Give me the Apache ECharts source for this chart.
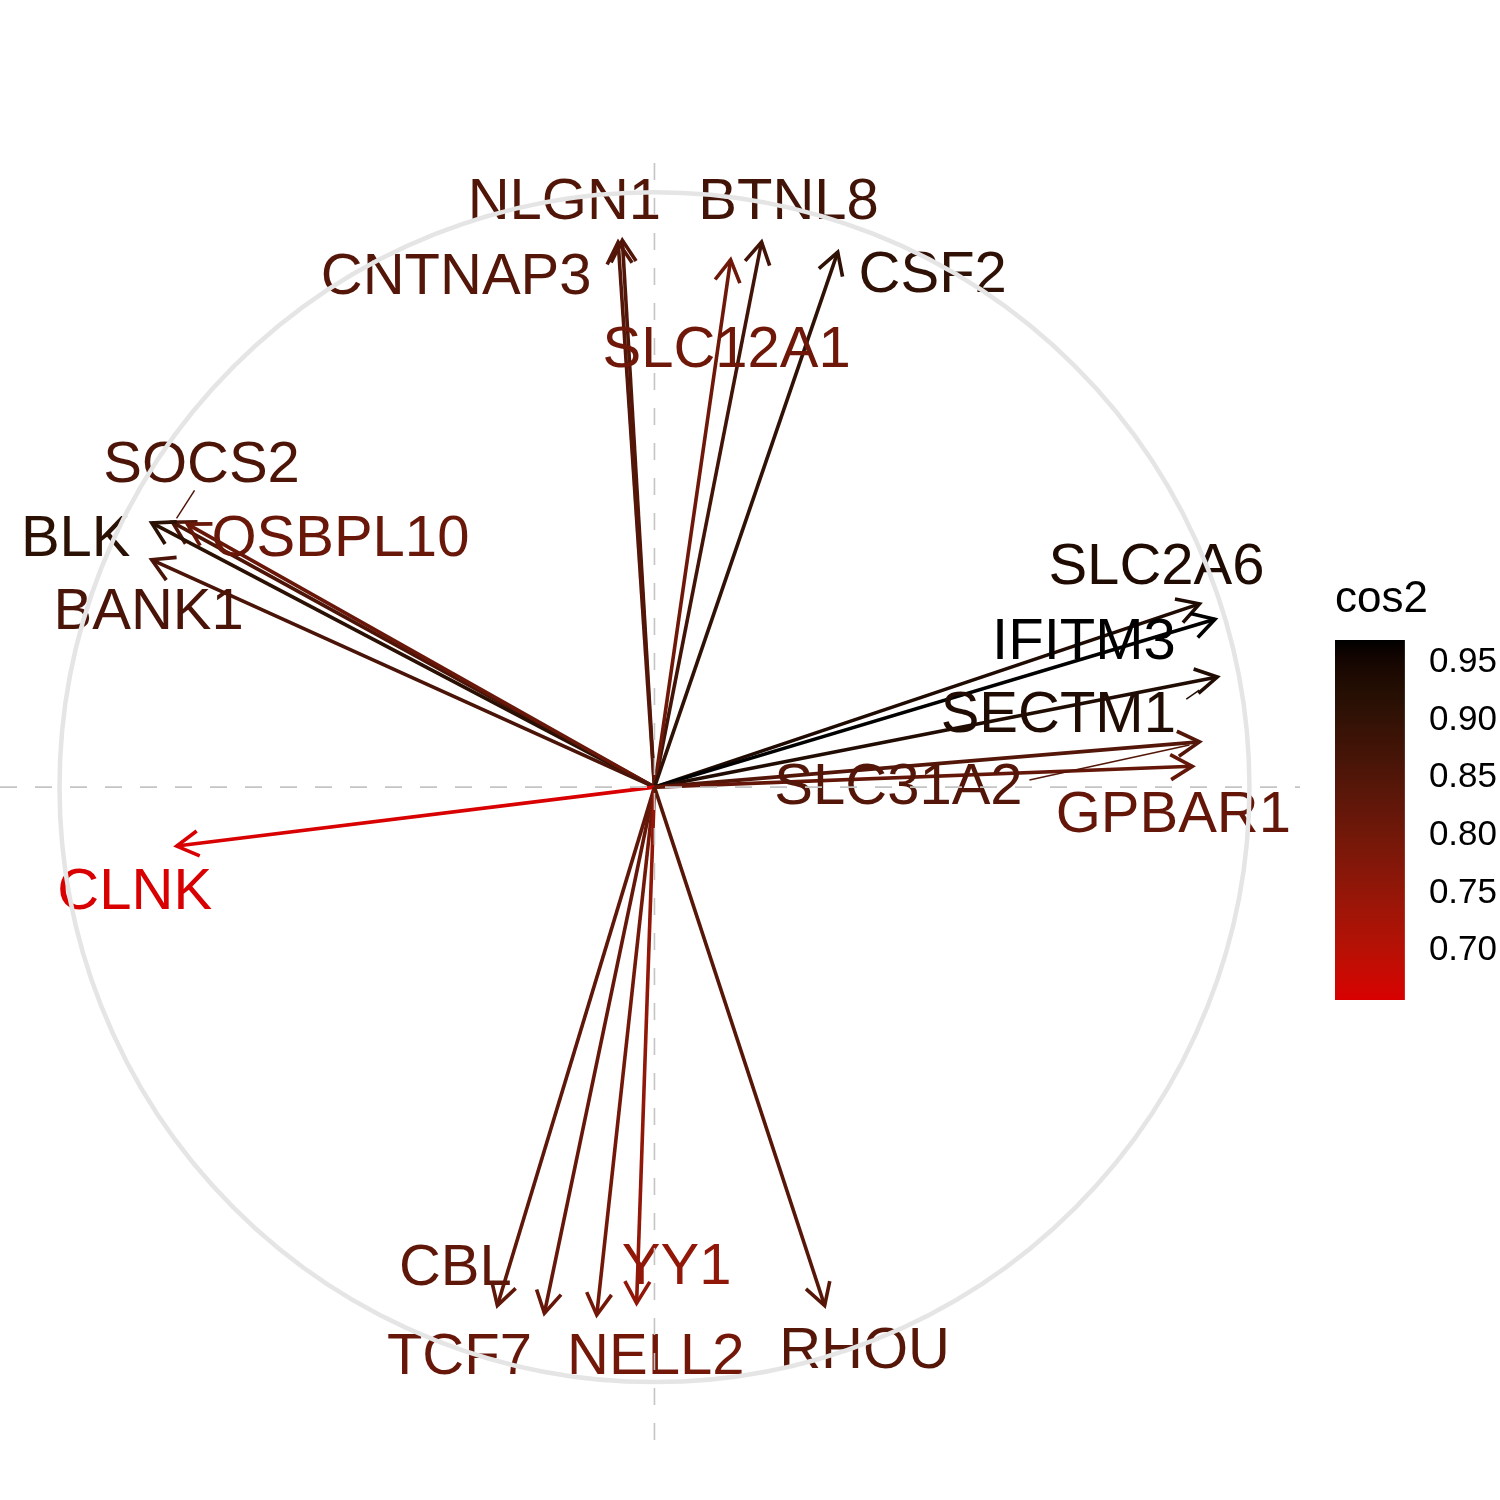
<!DOCTYPE html>
<html><head><meta charset="utf-8">
<script src="https://cdn.jsdelivr.net/npm/echarts@6.0.0/dist/echarts.min.js"></script>
<style>html,body{margin:0;padding:0;background:#fff}#c{width:1500px;height:1500px}</style>
</head><body><div id="c"></div>
<script>
// ---- data ----
const genes = ["NLGN1","CNTNAP3","BTNL8","SLC12A1","CSF2","SOCS2","BLK","OSBPL10","BANK1",
  "SLC2A6","IFITM3","SECTM1","SLC31A2","GPBAR1","CLNK","CBL","TCF7","NELL2","YY1","RHOU"];
const dim1 = [-0.054,-0.061,0.180,0.128,0.308,-0.810,-0.845,-0.785,-0.845,
  0.916,0.942,0.946,0.916,0.904,-0.803,-0.264,-0.185,-0.097,-0.030,0.286];
const dim2 = [0.919,0.916,0.916,0.886,0.899,0.445,0.444,0.442,0.382,
  0.308,0.282,0.185,0.076,0.035,-0.099,-0.871,-0.884,-0.887,-0.867,-0.871];
const legendTicks = [0.70,0.75,0.80,0.85,0.90,0.95];
const axisX = [-1.10, 1.085];
const axisY = [-1.097, 1.079];

// ---- styles (label placement in px relative to arrow tip) ----
const labelDx = [-58,-162,27,-4,95,29,-76,153,-3,-43,-131,-159,-301,-19,-42,-42,-85,59,40,40];
const labelDy = [-37,36,-39,91,24,-56,17,16,53,-36,24,39,46,50,47,-37,45,43,-35,46];
const segs = {5:[22,-32,4,-4], 11:[-31,22,-18,13], 12:[-170,38,-10,3]};
const LOW = [216,0,0], HIGH = [0,0,0];
const FONT = '"Liberation Sans", Arial, Helvetica, sans-serif';

// cos2 = squared length on the plotted plane
const cos2 = dim1.map((x,i)=>x*x+dim2[i]*dim2[i]);
const cmin = Math.min(...cos2), cmax = Math.max(...cos2);

// Lab interpolation (like ggplot2's seq_gradient_pal)
function lin(c){c/=255;return c<=0.04045?c/12.92:Math.pow((c+0.055)/1.055,2.4);}
function unlin(c){c=c<=0.0031308?12.92*c:1.055*Math.pow(c,1/2.4)-0.055;return Math.max(0,Math.min(255,Math.round(c*255)));}
const Xn=0.95047,Zn=1.08883;
function f(t){return t>0.008856?Math.cbrt(t):7.787*t+16/116;}
function finv(t){return t>0.206893?t*t*t:(t-16/116)/7.787;}
function toLab(rgb){const R=lin(rgb[0]),G=lin(rgb[1]),B=lin(rgb[2]);
  const X=0.4124*R+0.3576*G+0.1805*B,Y=0.2126*R+0.7152*G+0.0722*B,Z=0.0193*R+0.1192*G+0.9505*B;
  const fx=f(X/Xn),fy=f(Y),fz=f(Z/Zn);return [116*fy-16,500*(fx-fy),200*(fy-fz)];}
function fromLab(l){const fy=(l[0]+16)/116,fx=fy+l[1]/500,fz=fy-l[2]/200;
  const X=Xn*finv(fx),Y=finv(fy),Z=Zn*finv(fz);
  const R=3.2406*X-1.5372*Y-0.4986*Z,G=-0.9689*X+1.8758*Y+0.0415*Z,B=0.0557*X-0.2040*Y+1.0570*Z;
  return 'rgb('+unlin(R)+','+unlin(G)+','+unlin(B)+')';}
const labLow=toLab(LOW),labHigh=toLab(HIGH);
function colAt(t){return fromLab([0,1,2].map(k=>labLow[k]+(labHigh[k]-labLow[k])*t));}
function colFor(v){return colAt((v-cmin)/(cmax-cmin));}

const stops=[];for(let k=0;k<=40;k++){stops.push({offset:k/40,color:colAt(k/40)});}

const chart = echarts.init(document.getElementById('c'), null, {renderer:'canvas'});
const pts = dim1.map((x,i)=>[x,dim2[i],i]);

chart.setOption({
  backgroundColor:'#ffffff',
  animation:false,
  grid:[
    {left:0,right:200,top:145,bottom:60},
    {left:1335,top:640,width:70,height:360}
  ],
  xAxis:[
    {gridIndex:0,type:'value',min:axisX[0],max:axisX[1],show:false},
    {gridIndex:1,type:'value',min:0,max:1,show:false}
  ],
  yAxis:[
    {gridIndex:0,type:'value',min:axisY[0],max:axisY[1],show:false},
    {gridIndex:1,type:'value',min:cmin,max:cmax,position:'left',
      axisLine:{show:false},splitLine:{show:false},axisLabel:{show:false},
      axisTick:{show:true,inside:true,length:15,customValues:legendTicks,lineStyle:{color:'#ffffff',width:1.5}}},
    {gridIndex:1,type:'value',min:cmin,max:cmax,position:'right',
      axisLine:{show:false},splitLine:{show:false},
      axisTick:{show:true,inside:true,length:15,customValues:legendTicks,lineStyle:{color:'#ffffff',width:1.5}},
      axisLabel:{show:true,margin:24,customValues:legendTicks,formatter:v=>'{a|'+v.toFixed(2)+'}',
        rich:{a:{fontSize:35,color:'#000',fontFamily:FONT,padding:[6,0,0,0]}}}}
  ],
  graphic:[{type:'text',left:1335,top:578,style:{text:'cos2',font:'44px '+FONT,fill:'#000'}}],
  series:[
    { // arrows
      type:'custom',xAxisIndex:0,yAxisIndex:0,data:pts,z:2,silent:true,
      renderItem:function(p,api){
        const i=api.value(2);const col=colFor(cos2[i]);
        const o=api.coord([0,0]);const t=api.coord([api.value(0),api.value(1)]);
        const ang=Math.atan2(t[1]-o[1],t[0]-o[0]);const L=25,a=Math.PI/6;
        const a1=[t[0]-L*Math.cos(ang-a),t[1]-L*Math.sin(ang-a)];
        const a2=[t[0]-L*Math.cos(ang+a),t[1]-L*Math.sin(ang+a)];
        return {type:'group',children:[
          {type:'line',shape:{x1:o[0],y1:o[1],x2:t[0],y2:t[1]},style:{stroke:col,lineWidth:3.6}},
          {type:'polyline',shape:{points:[a1,t,a2]},style:{stroke:col,lineWidth:3.6,fill:null,lineJoin:'miter'}}
        ]};
      }
    },
    { // labels
      type:'custom',xAxisIndex:0,yAxisIndex:0,data:pts,z:3,silent:true,
      renderItem:function(p,api){
        const i=api.value(2);const col=colFor(cos2[i]);
        const t=api.coord([api.value(0),api.value(1)]);
        const ch=[];
        if(segs[i]){const s=segs[i];
          ch.push({type:'line',shape:{x1:t[0]+s[0],y1:t[1]+s[1],x2:t[0]+s[2],y2:t[1]+s[3]},style:{stroke:col,lineWidth:1.5}});}
        ch.push({type:'text',style:{text:genes[i],x:t[0]+labelDx[i],y:t[1]+labelDy[i],
          fill:col,font:'58px '+FONT,align:'center',verticalAlign:'middle'}});
        return {type:'group',children:ch};
      }
    },
    { // correlation circle
      type:'custom',xAxisIndex:0,yAxisIndex:0,data:[[0,0]],z:4,silent:true,
      renderItem:function(p,api){const c=api.coord([0,0]);const r=api.size([1,0])[0];
        return {type:'circle',shape:{cx:c[0],cy:c[1],r:r},style:{fill:'none',stroke:'#e5e5e5',lineWidth:4.5}};}
    },
    {type:'line',xAxisIndex:0,yAxisIndex:0,data:[[axisX[0],0],[axisX[1],0]],symbol:'none',z:5,silent:true,
      lineStyle:{color:'#c4c4c4',width:1.6,type:[17,18]}},
    {type:'line',xAxisIndex:0,yAxisIndex:0,data:[[0,axisY[0]],[0,axisY[1]]],symbol:'none',z:5,silent:true,
      lineStyle:{color:'#c4c4c4',width:1.6,type:[17,18]}},
    { // colour bar
      type:'custom',xAxisIndex:1,yAxisIndex:1,data:[[0,cmin]],z:1,silent:true,
      renderItem:function(p,api){const a=api.coord([0,cmin]);const b=api.coord([1,cmax]);
        return {type:'rect',shape:{x:a[0],y:b[1],width:b[0]-a[0],height:a[1]-b[1]},
          style:{fill:new echarts.graphic.LinearGradient(0,1,0,0,stops)}};}
    }
  ]
});
</script></body></html>
